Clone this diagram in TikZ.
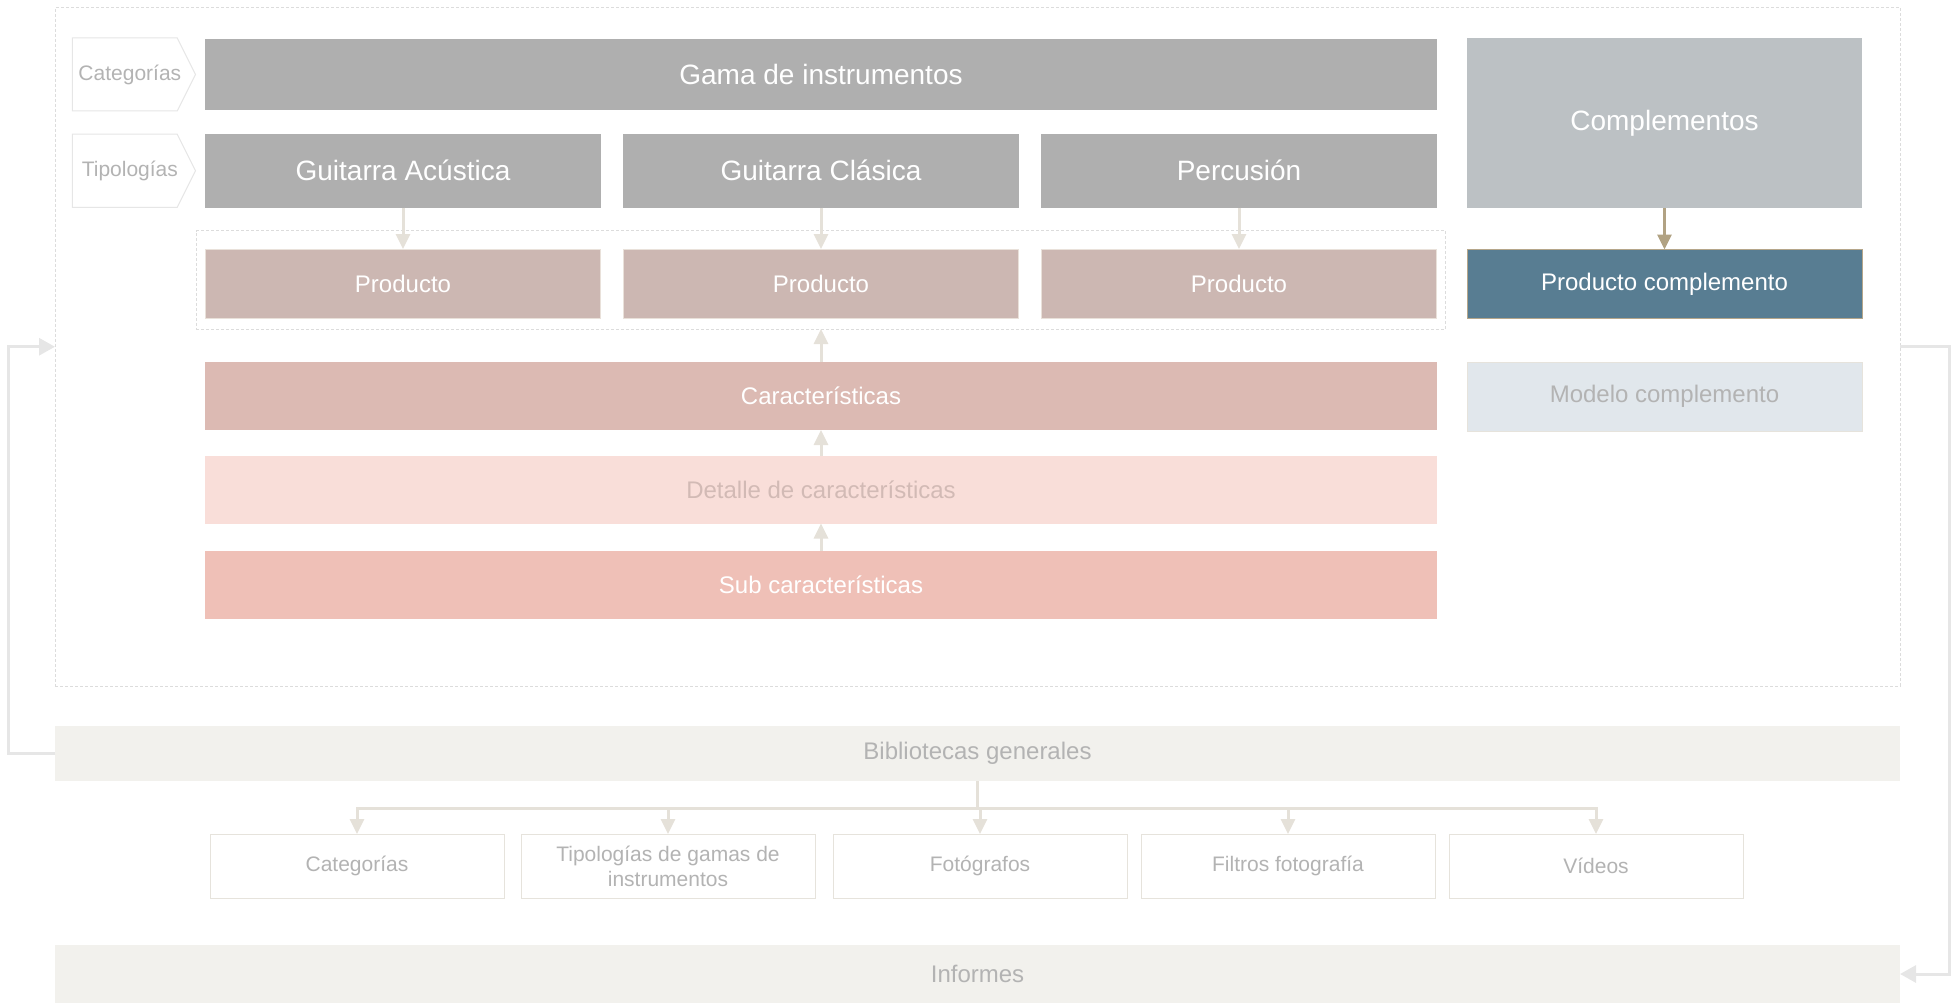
\documentclass[tikz,border=0pt]{standalone}
\usepackage{fontspec}
\setmainfont{Liberation Sans}
\usetikzlibrary{arrows.meta,positioning,shapes.symbols,calc,fit}

\definecolor{gama}{HTML}{AFAFAF}
\definecolor{compl}{HTML}{BCC1C4}
\definecolor{prod}{HTML}{CCB7B2}
\definecolor{prodedge}{HTML}{E9E1DA}
\definecolor{pcomp}{HTML}{587D92}
\definecolor{pcompedge}{HTML}{B5A68A}
\definecolor{mcomp}{HTML}{E1E7EC}
\definecolor{mcompedge}{HTML}{E6E3DC}
\definecolor{caract}{HTML}{DCBAB3}
\definecolor{detalle}{HTML}{F9DED9}
\definecolor{detalletxt}{HTML}{D2BAB5}
\definecolor{subc}{HTML}{EFC0B7}
\definecolor{bib}{HTML}{F2F1ED}
\definecolor{lbltxt}{HTML}{B3B3B3}
\definecolor{chevedge}{HTML}{E6E6E6}
\definecolor{arrline}{HTML}{E5E1D9}
\definecolor{arrdark}{HTML}{B1A283}
\definecolor{fbline}{HTML}{E6E6E6}
\definecolor{frameline}{HTML}{DCDCDC}

\newcommand{\fsz}[2]{\fontsize{#1}{#2}\selectfont}
\newcommand{\chevtxt}[1]{\makebox[0pt]{\hspace*{10pt}#1}}

\begin{document}
\begin{tikzpicture}[
  x=1pt, y=-1pt,
  box/.style={inner sep=0pt, outer sep=0pt, align=center},
  gbox/.style={box, fill=gama, text=white, font=\fsz{28}{34}, minimum width=396pt, minimum height=73.5pt},
  pbox/.style={box, fill=prod, draw=prodedge, line width=1pt, text=white, font=\fsz{24}{29}, minimum width=395pt, minimum height=69pt},
  wbox/.style={box, text=white, font=\fsz{24}{29}, minimum width=1232pt, minimum height=68.5pt},
  lbox/.style={box, draw=mcompedge, line width=1pt, fill=white, text=lbltxt, font=\fsz{21}{25}, minimum width=294pt, minimum height=64pt},
  bar/.style={box, fill=bib, text=lbltxt, font=\fsz{24}{29}, minimum width=1845pt},
  chev/.style={signal, signal to=east, signal pointer angle=127, draw=chevedge, line width=1pt, fill=white, inner sep=0pt, minimum width=123pt, minimum height=73pt, text=lbltxt, font=\fsz{21}{25}},
  arr/.style={-{Triangle[length=15pt,width=14pt]}, line width=3pt, draw=arrline, color=arrline},
  fb/.style={-{Triangle[length=16pt,width=17pt]}, line width=3pt, color=fbline}
]
\useasboundingbox (0,0) rectangle (1953,1003);

% marco general
\node[box, draw=frameline, line width=1pt, dash pattern=on 3pt off 2pt, minimum width=1845pt, minimum height=678.5pt, anchor=north west] (marco) at (55,7.5) {};

% gamas
\node[gbox, minimum width=1232pt, minimum height=71pt, anchor=north west] (gama) at (205,39) {Gama de instrumentos};
\node[gbox, below=24pt of gama.south west, anchor=north west] (acus) {Guitarra Acústica};
\node[gbox, right=22pt of acus] (clas) {Guitarra Clásica};
\node[gbox, right=22pt of clas] (perc) {Percusión};
\node[chev, left=9pt of gama] (lcat) {\chevtxt{Categorías}};
\node[chev, left=9pt of acus] (ltip) {\chevtxt{Tipologías}};

\node[box, fill=compl, text=white, font=\fsz{28}{34}, minimum width=395pt, minimum height=170pt, anchor=north west] (comp) at (1467,38) {Complementos};

% productos
\node[pbox, below=41.5pt of acus] (prod1) {Producto};
\node[pbox, below=41.5pt of clas] (prod2) {Producto};
\node[pbox, below=41.5pt of perc] (prod3) {Producto};
\node[box, draw=frameline, line width=1pt, dash pattern=on 3pt off 2pt,
  fit={($(prod1.north west)+(-9.5,-18.5)$) ($(prod3.south east)+(9,11)$)}] (grupo) {};
\node[box, fill=pcomp, draw=pcompedge, line width=1pt, text=white, font=\fsz{24}{29}, minimum width=395pt, minimum height=69pt, below=41.5pt of comp] (pcomp) {Producto complemento};

% caracteristicas
\node[wbox, fill=caract, below=43.5pt of prod2] (car) {Características};
\node[wbox, fill=detalle, text=detalletxt, minimum height=68pt, below=25.5pt of car] (det) {Detalle de características};
\node[wbox, fill=subc, below=27pt of det] (sub) {Sub características};
\node[box, fill=mcomp, draw=mcompedge, line width=1pt, text=lbltxt, font=\fsz{24}{29}, minimum width=395pt, minimum height=69pt, below=43.5pt of pcomp] (mcomp) {Modelo complemento};

% bibliotecas
\node[bar, minimum height=55pt, anchor=north west] (bib) at (55,726) {Bibliotecas generales};
\node[lbox, anchor=north west] (bcat) at (210,834) {Categorías};
\node[lbox, right=17pt of bcat] (btip) {Tipologías de gamas de\\instrumentos};
\node[lbox, right=18pt of btip] (bfot) {Fotógrafos};
\node[lbox, right=14pt of bfot] (bfil) {Filtros fotografía};
\node[lbox, right=14pt of bfil] (bvid) {Vídeos};
\node[bar, minimum height=58pt, anchor=north west] (inf) at (55,945) {Informes};

% conectores
\draw[arr] (acus) -- (prod1);
\draw[arr] (clas) -- (prod2);
\draw[arr] (perc) -- (prod3);
\draw[arr, color=arrdark] (comp) -- (pcomp);
\draw[arr] (car.north) -- (car.north |- grupo.south);
\draw[arr] (det) -- (car);
\draw[arr] (sub) -- (det);

\coordinate (bus) at ($(bib.south)+(0,27)$);
\draw[line width=3pt, arrline] (bib.south) -- (bus);
\foreach \b in {bcat,btip,bfot,bfil,bvid}
  \draw[arr] (bus) -| (\b.north);

\draw[fb] (bib.west) -| ($(marco.west)+(-46.3,0)$) -- (marco.west);
\draw[fb] (marco.east) -- ++(49,0) |- (inf.east);
\end{tikzpicture}
\end{document}
